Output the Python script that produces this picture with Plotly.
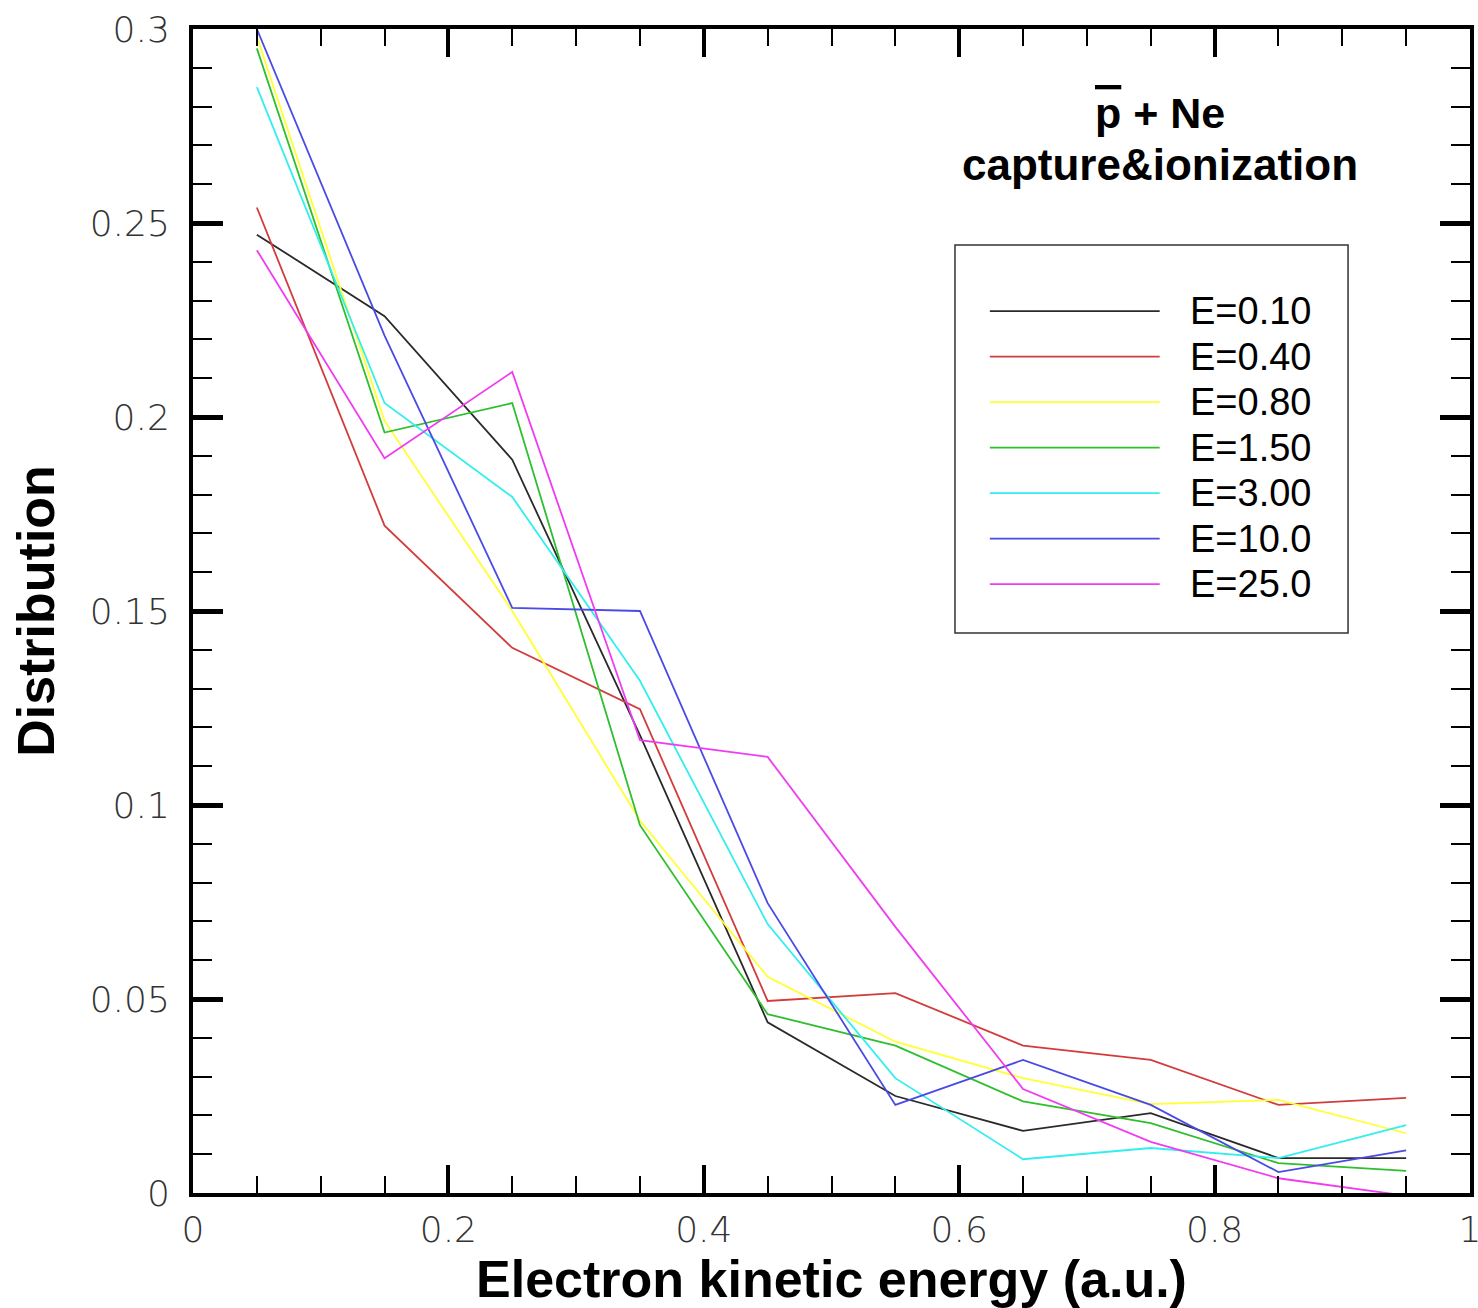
import plotly.graph_objects as go

# ---- data ----
energy_x = [0.05, 0.15, 0.25, 0.35, 0.45, 0.55, 0.65, 0.75, 0.85, 0.95]

e010 = [0.247, 0.226, 0.189, 0.118, 0.044, 0.025, 0.016, 0.0206, 0.009, 0.009]
e040 = [0.254, 0.172, 0.1405, 0.1247, 0.0495, 0.0515, 0.038, 0.0343, 0.0227, 0.0245]
e080 = [0.298, 0.199, 0.150, 0.096, 0.0557, 0.039, 0.0296, 0.0229, 0.024, 0.0154]
e150 = [0.295, 0.196, 0.2036, 0.0948, 0.0461, 0.038, 0.0236, 0.018, 0.0077, 0.0057]
e300 = [0.285, 0.2036, 0.1794, 0.132, 0.0693, 0.0296, 0.0087, 0.0116, 0.009, 0.0175]
e1000 = [0.300, 0.221, 0.1508, 0.150, 0.0747, 0.0227, 0.0343, 0.0227, 0.0054, 0.011]
e2500 = [0.243, 0.1894, 0.2116, 0.1167, 0.1124, 0.0686, 0.0268, 0.0132, 0.0038, -0.0007]

series_names = ["E=0.10", "E=0.40", "E=0.80", "E=1.50", "E=3.00", "E=10.0", "E=25.0"]
series_values = [e010, e040, e080, e150, e300, e1000, e2500]
series_colors = ["#2a2a2a", "#d23c3c", "#ffff33", "#2ebf2e", "#33eeee", "#4a4ae6", "#f03cf0"]

fig = go.Figure()
for name, vals, col in zip(series_names, series_values, series_colors):
    fig.add_trace(go.Scatter(x=energy_x, y=vals, mode="lines", name=name,
                             line=dict(color=col, width=1.8)))

tickfont = dict(family="DejaVu Sans", size=36, color="#333333", weight=300)
titlefont = dict(family="Liberation Sans", size=52, color="black", weight="bold")

fig.update_xaxes(range=[0, 1], tick0=0, dtick=0.2, ticks="inside", ticklen=28, tickwidth=4,
                 tickcolor="black", showline=True, linewidth=4, linecolor="black",
                 mirror="allticks", showgrid=False, zeroline=False, tickfont=tickfont,
                 ticklabelstandoff=2, ticklabeloverflow="allow",
                 minor=dict(dtick=0.05, ticks="inside", ticklen=17, tickwidth=1.5, tickcolor="black"),
                 title=dict(text="Electron kinetic energy (a.u.)", font=titlefont, standoff=5))
fig.update_yaxes(range=[0, 0.3], tick0=0, dtick=0.05, ticks="inside", ticklen=30, tickwidth=5,
                 tickcolor="black", showline=True, linewidth=4, linecolor="black",
                 mirror="allticks", showgrid=False, zeroline=False, tickfont=tickfont,
                 ticklabelstandoff=12, ticklabeloverflow="allow",
                 minor=dict(dtick=0.01, ticks="inside", ticklen=19, tickwidth=1.5, tickcolor="black"),
                 title=dict(text="Distribution", font=titlefont, standoff=19))

# ---- title annotations ----
fig.add_annotation(xref="paper", yref="paper", x=0.757, y=0.928, xanchor="center", yanchor="middle",
                   text="<span style='text-decoration:overline'>p</span> + Ne", showarrow=False,
                   font=dict(family="Liberation Sans", size=43, color="black", weight="bold"))
fig.add_annotation(xref="paper", yref="paper", x=0.757, y=0.884, xanchor="center", yanchor="middle",
                   text="capture&amp;ionization", showarrow=False,
                   font=dict(family="Liberation Sans", size=44, color="black", weight="bold"))

# ---- custom legend box ----
fig.add_shape(type="rect", xref="paper", yref="paper", x0=0.5967, x1=0.9045, y0=0.4811, y1=0.8144,
              line=dict(color="#333333", width=1.5), fillcolor="white", layer="above")
row0 = 0.7577
gap = 0.0391
for i, (name, col) in enumerate(zip(series_names, series_colors)):
    yy = row0 - i * gap
    fig.add_shape(type="line", xref="paper", yref="paper", x0=0.624, x1=0.757, y0=yy, y1=yy,
                  line=dict(color=col, width=1.8), layer="above")
    fig.add_annotation(xref="paper", yref="paper", x=0.779, y=yy, xanchor="left", yanchor="middle",
                       text=name, showarrow=False,
                       font=dict(family="Liberation Sans", size=38, color="black"))

fig.update_layout(width=1478, height=1308, margin=dict(l=193, r=8, t=29, b=115, autoexpand=False),
                  plot_bgcolor="white", paper_bgcolor="white", showlegend=False)

fig.write_html("out.html")
